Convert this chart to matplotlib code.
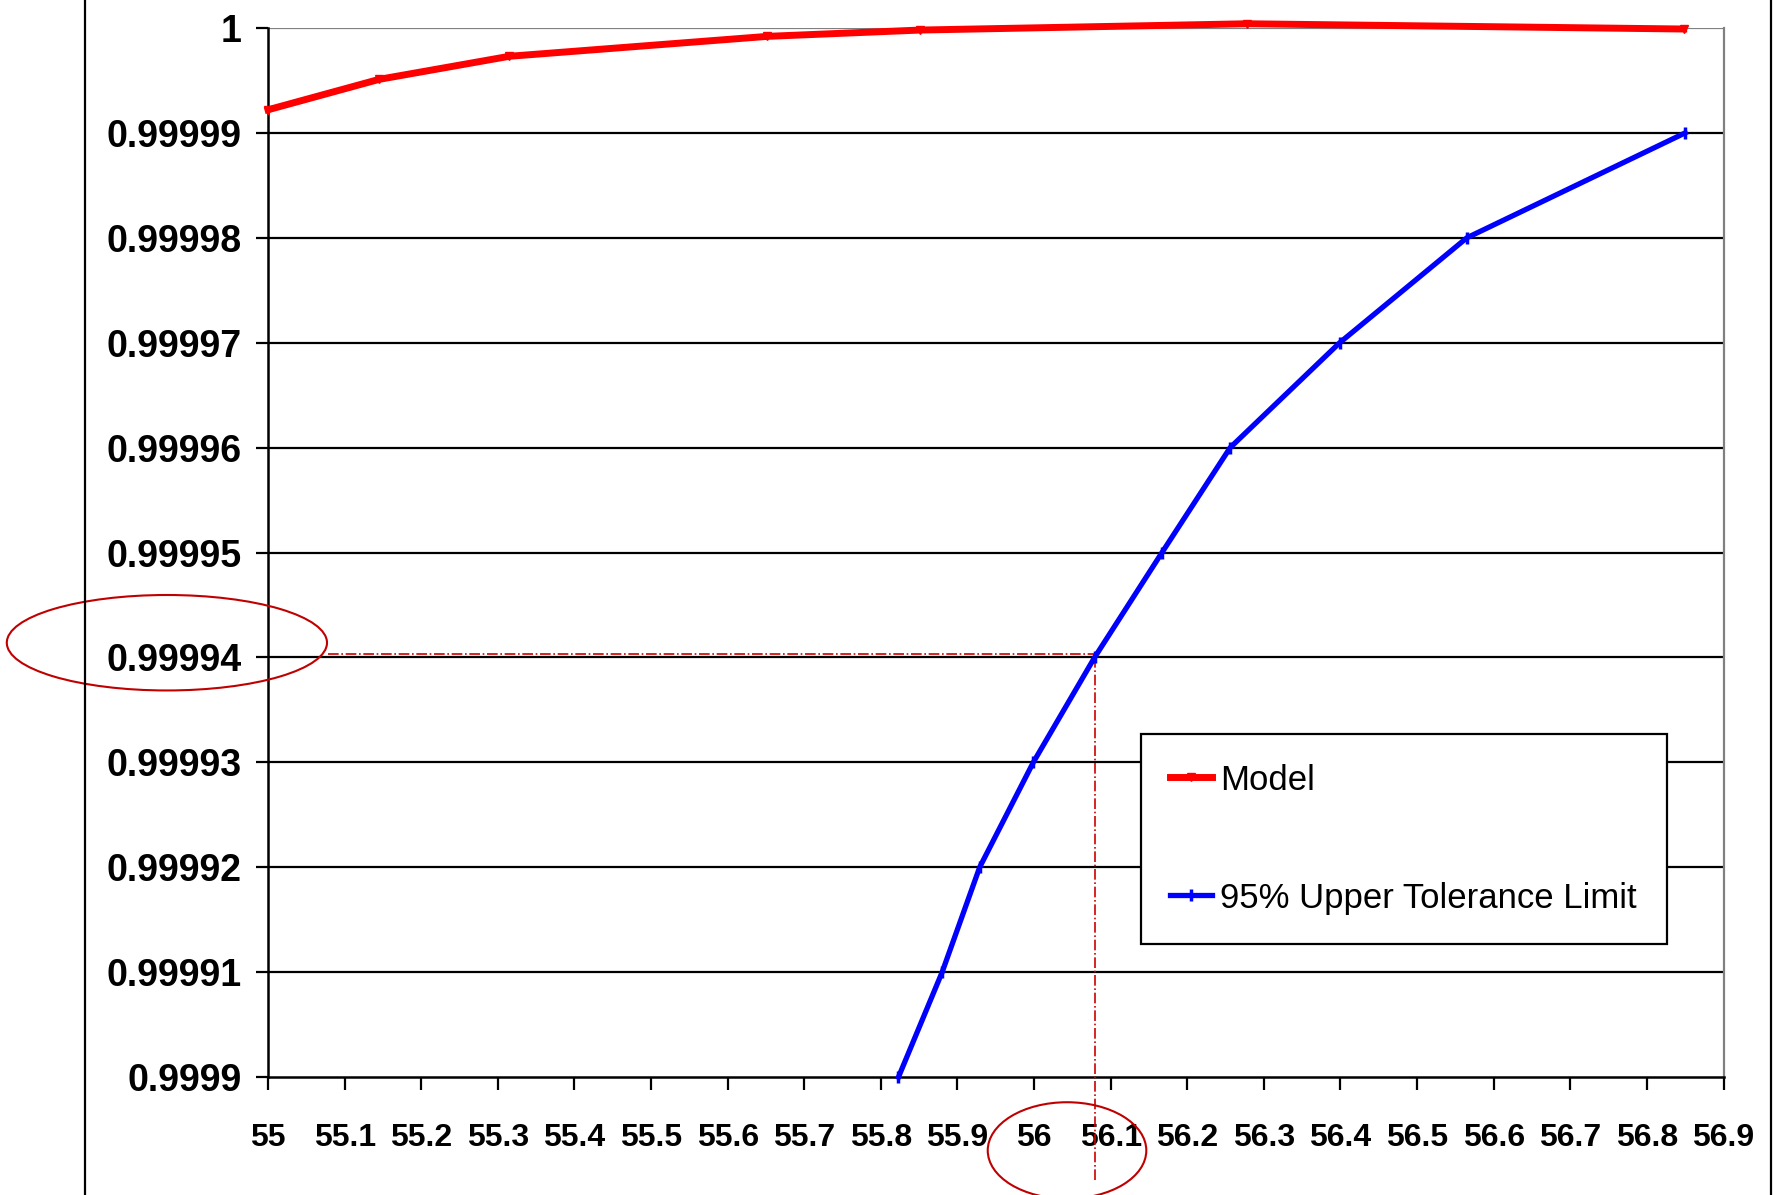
import matplotlib
matplotlib.use("Agg")
import matplotlib.pyplot as plt
from matplotlib import font_manager
from matplotlib.patches import Ellipse
from matplotlib.lines import Line2D
from matplotlib.ticker import FixedLocator, FixedFormatter

# font: narrow Arial look-alike if present
names = set(f.name for f in font_manager.fontManager.ttflist)
FONT = "Liberation Sans Narrow" if "Liberation Sans Narrow" in names else "Liberation Sans"
plt.rcParams["font.family"] = [FONT, "DejaVu Sans"]

# data
model_x = [55.0, 55.145, 55.315, 55.652, 55.851, 56.278, 56.848]
model_y = [0.9999922, 0.9999951, 0.9999973, 0.9999992, 0.9999998, 1.0000004, 0.9999999]

utl_x = [55.823, 55.880, 55.929, 55.999, 56.079, 56.167, 56.256, 56.399, 56.565, 56.850]
utl_y = [0.99990, 0.99991, 0.99992, 0.99993, 0.99994, 0.99995, 0.99996, 0.99997, 0.99998, 0.99999]

x_ticks = [55.0, 55.1, 55.2, 55.3, 55.4, 55.5, 55.6, 55.7, 55.8, 55.9,
           56.0, 56.1, 56.2, 56.3, 56.4, 56.5, 56.6, 56.7, 56.8, 56.9]
x_labels = ["55", "55.1", "55.2", "55.3", "55.4", "55.5", "55.6", "55.7", "55.8", "55.9",
            "56", "56.1", "56.2", "56.3", "56.4", "56.5", "56.6", "56.7", "56.8", "56.9"]
y_ticks = [0.9999, 0.99991, 0.99992, 0.99993, 0.99994, 0.99995,
           0.99996, 0.99997, 0.99998, 0.99999, 1.0]
y_labels = ["0.9999", "0.99991", "0.99992", "0.99993", "0.99994", "0.99995",
            "0.99996", "0.99997", "0.99998", "0.99999", "1"]

mark_x = 56.08
mark_y = 0.99994

fig = plt.figure(figsize=(17.75, 11.95), dpi=100)
ax = fig.add_axes([0.151, 0.0987, 0.820, 0.8779])

ax.set_xlim(55.0, 56.9)
ax.set_ylim(0.9999, 1.0)

# grid
for yv in y_ticks[1:-1]:
    ax.axhline(yv, color="black", lw=1.6, zorder=1)
ax.axhline(1.0, color="#808080", lw=1.6, zorder=1)

ax.plot(model_x, model_y, color="#ff0000", lw=5.0, marker="v", ms=6,
        clip_on=False, zorder=4, label="Model")
ax.plot(utl_x, utl_y, color="#0000ff", lw=3.8, marker="|", ms=8, mew=2.5,
        clip_on=False, zorder=4, label="95% Upper Tolerance Limit")

# reading lines
ax.plot([55.078, mark_x], [mark_y + 0.0000003, mark_y + 0.0000003], color="#cc0000",
        lw=1.2, ls="-.", clip_on=False, zorder=3)
ax.plot([mark_x, mark_x], [mark_y, 0.99989], color="#cc0000",
        lw=1.2, ls="-.", clip_on=False, zorder=3)

# annotation ellipses
ax.add_patch(Ellipse((54.868, 0.9999414), 0.418, 0.0000091, fill=False,
                     ec="#c00000", lw=1.5, clip_on=False, zorder=5))
ax.add_patch(Ellipse((56.043, 0.999893), 0.207, 0.0000092, fill=False,
                     ec="#c00000", lw=1.5, clip_on=False, zorder=5))

ax.xaxis.set_major_locator(FixedLocator(x_ticks))
ax.xaxis.set_major_formatter(FixedFormatter(x_labels))
ax.yaxis.set_major_locator(FixedLocator(y_ticks))
ax.yaxis.set_major_formatter(FixedFormatter(y_labels))

ax.tick_params(axis="x", direction="out", length=9, width=1.6, pad=24,
               labelsize=23)
ax.tick_params(axis="y", direction="out", length=9, width=1.6, pad=10,
               labelsize=27)
for lab in ax.get_xticklabels() + ax.get_yticklabels():
    lab.set_fontweight("bold")

ax.spines["top"].set_visible(False)
ax.spines["right"].set_color("#808080")
ax.spines["right"].set_linewidth(1.6)
ax.spines["left"].set_linewidth(1.8)
ax.spines["bottom"].set_linewidth(1.8)

leg = ax.legend(loc="upper left", bbox_to_anchor=(0.5995, 0.327), fontsize=25,
                frameon=True, fancybox=False, edgecolor="black",
                borderpad=0.85, labelspacing=2.45, handlelength=1.2,
                handletextpad=0.25, borderaxespad=0)
leg.get_frame().set_linewidth(1.6)
leg.get_frame().set_alpha(1)

# outer frame lines of the pasted chart
fig.add_artist(Line2D([0.048, 0.048], [0, 1], color="black", lw=1.6))
fig.add_artist(Line2D([0.998, 0.998], [0, 1], color="black", lw=1.6))

fig.savefig("out.png", dpi=100, facecolor="white")
